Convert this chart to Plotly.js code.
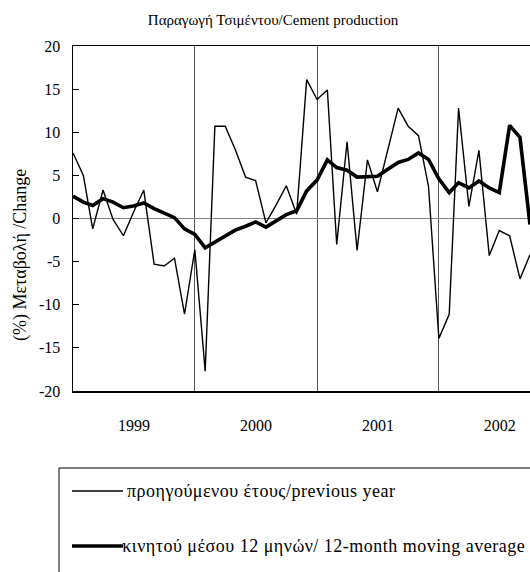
<!DOCTYPE html>
<html>
<head>
<meta charset="utf-8">
<script src="https://cdn.plot.ly/plotly-3.0.1.min.js"></script>
<style>
html,body{margin:0;padding:0;background:#fff;}
#chart{width:530px;height:572px;}
#chart .annotation-text.legtext{letter-spacing:0.5px;}
</style>
</head>
<body>
<div id="chart"></div>
<script>
const months = [
 "1999-01","1999-02","1999-03","1999-04","1999-05","1999-06","1999-07","1999-08","1999-09","1999-10","1999-11","1999-12",
 "2000-01","2000-02","2000-03","2000-04","2000-05","2000-06","2000-07","2000-08","2000-09","2000-10","2000-11","2000-12",
 "2001-01","2001-02","2001-03","2001-04","2001-05","2001-06","2001-07","2001-08","2001-09","2001-10","2001-11","2001-12",
 "2002-01","2002-02","2002-03","2002-04","2002-05","2002-06","2002-07","2002-08","2002-09","2002-10"
];
const yoyChange = [
 7.6, 5.0, -1.2, 3.3, -0.1, -2.0, 0.7, 3.3, -5.3, -5.5, -4.6, -11.1,
 -3.6, -17.7, 10.7, 10.7, 8.0, 4.8, 4.4, -0.5, 1.6, 3.8, 0.5, 16.1,
 13.8, 14.9, -3.0, 8.9, -3.7, 6.8, 3.1, 8.0, 12.8, 10.7, 9.6, 3.7,
 -13.9, -11.1, 12.8, 1.4, 7.9, -4.3, -1.4, -2.0, -7.0, -4.2
];
const movingAvg12 = [
 2.6, 1.9, 1.5, 2.3, 1.9, 1.25, 1.45, 1.8, 1.15, 0.65, 0.1, -1.2,
 -1.85, -3.4, -2.7, -2.0, -1.35, -0.9, -0.4, -1.0, -0.3, 0.45, 0.9, 3.2,
 4.45, 6.8, 5.9, 5.6, 4.8, 4.8, 4.9, 5.7, 6.5, 6.85, 7.6, 6.85,
 4.6, 3.0, 4.15, 3.55, 4.35, 3.55, 3.0, 10.8, 9.4, -0.7
];
const yTicks = [-20, -15, -10, -5, 0, 5, 10, 15, 20];
const titleText = "Παραγωγή Τσιμέντου/Cement production";
const yTitleText = "(%) Μεταβολή /Change";
const legendNames = ["προηγούμενου έτους/previous year", "κινητού μέσου 12 μηνών/ 12-month moving average"];

const fam = "'Liberation Serif', 'Liberation Sans', sans-serif";

const traces = [
  {x: months, y: yoyChange, type: "scatter", mode: "lines", name: legendNames[0],
   line: {color: "#000", width: 1.4}, showlegend: false},
  {x: months, y: movingAvg12, type: "scatter", mode: "lines", name: legendNames[1],
   line: {color: "#000", width: 3.6}, showlegend: false}
];

const L = 73, T = 46, W = 457, H = 345;
function px(x){ return (x - L) / W; }
function py(y){ return (T + H - y) / H; }

const layout = {
  width: 530, height: 572,
  margin: {l: L, r: 530 - L - W, t: T, b: 572 - T - H},
  paper_bgcolor: "#fff", plot_bgcolor: "#fff",
  font: {family: fam, color: "#000", size: 14},
  title: {text: titleText, font: {family: fam, size: 15, color: "#000"},
          x: 273 / 530, xref: "container", xanchor: "center", y: 0.965, yanchor: "middle"},
  xaxis: {
    type: "date", range: ["1999-01-01", "2002-10-01"],
    tick0: "1999-01-01", dtick: "M12", tickformat: "%Y", ticklabelmode: "period",
    showgrid: true, gridcolor: "#555", gridwidth: 1,
    ticks: "", showline: true, mirror: true, linecolor: "#000", linewidth: 1.5,
    zeroline: false, ticklabelstandoff: 19,
    tickfont: {family: fam, size: 16, color: "#000"}
  },
  yaxis: {
    range: [-20, 20], tickvals: yTicks, ticktext: yTicks.map(String),
    showgrid: false, zeroline: true, zerolinecolor: "#808080", zerolinewidth: 1.5,
    ticks: "inside", ticklen: 6, tickcolor: "#000", tickwidth: 1,
    showline: true, mirror: true, linecolor: "#000", linewidth: 1.5,
    ticklabelstandoff: 8,
    tickfont: {family: fam, size: 16, color: "#000"}
  },
  shapes: [
    {type: "rect", xref: "paper", yref: "paper", x0: px(59), x1: px(540), y0: py(585), y1: py(468),
     line: {color: "#000", width: 1}, fillcolor: "rgba(0,0,0,0)"},
    {type: "line", xref: "paper", yref: "paper", x0: px(72), x1: px(123), y0: py(491), y1: py(491),
     line: {color: "#000", width: 1.4}},
    {type: "line", xref: "paper", yref: "paper", x0: px(72), x1: px(123), y0: py(546), y1: py(546),
     line: {color: "#000", width: 3.6}}
  ],
  annotations: [
    {text: yTitleText, xref: "paper", yref: "paper", x: px(20), y: py(255), textangle: -90,
     showarrow: false, xanchor: "center", yanchor: "middle",
     font: {family: fam, size: 18, color: "#000"}},
    {text: legendNames[0], xref: "paper", yref: "paper", x: px(133), y: py(491),
     showarrow: false, xanchor: "left", yanchor: "middle",
     font: {family: fam, size: 18, color: "#000"}},
    {text: legendNames[1], xref: "paper", yref: "paper", x: px(132), y: py(546),
     showarrow: false, xanchor: "left", yanchor: "middle",
     font: {family: fam, size: 18, color: "#000"}}
  ]
};

Plotly.newPlot("chart", traces, layout, {staticPlot: true, displayModeBar: false}).then(function(gd){
  const texts = gd.querySelectorAll(".annotation-text");
  texts.forEach(function(t){
    if (legendNames.indexOf(t.textContent) >= 0) t.classList.add("legtext");
  });
});
</script>
</body>
</html>
